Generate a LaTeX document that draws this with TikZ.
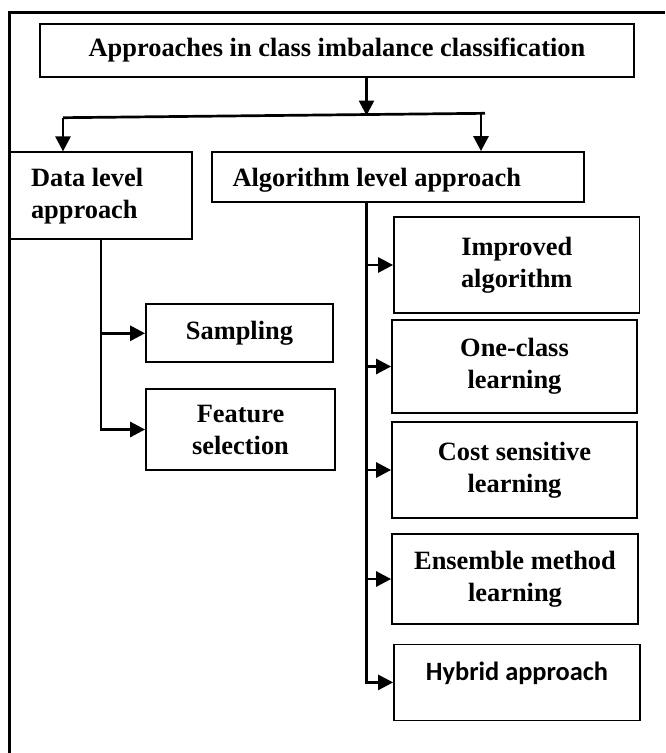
\documentclass[tikz,border=0pt]{standalone}
\usepackage{fontspec}
\setmainfont{Liberation Serif}
\newfontfamily\calibrifont{Carlito}
\usetikzlibrary{arrows.meta}

\begin{document}
\begin{tikzpicture}[x=1pt,y=-1pt,
  box/.style={draw, line width=1.8pt, inner sep=0pt, align=center,
    font={\fontsize{26.4}{32}\selectfont\bfseries}},
  leftbox/.style={box, align=flush left},
  link/.style={line width=2.7pt},
  arr/.style={link, -{Triangle[length=15pt,width=15pt]}},
  frameline/.style={line width=2.5pt}]

\useasboundingbox (0,0) rectangle (665,753);

% open frame: top and left edges
\draw[frameline] (665,12.3) -- (9.7,12.3) -- (9.7,753);

% boxes
\node[box, minimum width=594pt, minimum height=53pt] (title) at (337,50.2)
  {Approaches in class imbalance classification};
\node[leftbox, minimum width=181.7pt, minimum height=87pt, text width=139.7pt,
  inner xsep=21pt] (data) at (100.85,195.8) {Data level\\approach};
\node[leftbox, minimum width=372pt, minimum height=49.7pt, text width=331pt,
  inner xsep=20.5pt, text height=24pt, text depth=5.7pt] (algo) at (398,176.85)
  {Algorithm level approach};

\node[box, minimum width=187pt, minimum height=58pt] (sampling) at (239.5,333.3) {Sampling};
\node[box, minimum width=189pt, minimum height=81pt] (feature) at (240.5,429.5) {Feature\\selection};

\node[box, minimum width=245.5pt, minimum height=96pt] (improved) at (516.75,265) {Improved\\algorithm};
\node[box, minimum width=245pt, minimum height=93pt] (oneclass) at (514.5,366.5) {One-class\\learning};
\node[box, minimum width=245pt, minimum height=96pt] (cost) at (514.5,470) {Cost sensitive\\learning};
\node[box, minimum width=246pt, minimum height=90pt] (ensemble) at (515,579) {Ensemble method\\learning};
\node[box, minimum width=246pt, minimum height=76pt, text height=18pt, text depth=21pt,
  font={\fontsize{26.4}{32}\selectfont\calibrifont\bfseries}] (hybrid) at (517,682.4) {Hybrid approach};

% split below the title
\coordinate (split) at (366.5,115.5);
\coordinate (jl) at (63,117.7);
\coordinate (jr) at (485,113.3);
\coordinate (jalgo) at (481,113.5);

\draw[arr] (title.south -| split) -- (split);
\draw[link] (jl) -- (jr);
\draw[arr] (jl) -- (jl |- data.north);
\draw[arr] (jalgo) -- (jalgo |- algo.north);

% data level branches
\draw[arr] (data.south) |- (feature.west);
\draw[arr] (data.south |- sampling.west) -- (sampling.west);

% algorithm level branches
\draw[arr] (algo.south -| split) |- (hybrid.west);
\draw[arr] (improved.west -| split) -- (improved.west);
\draw[arr] (oneclass.west -| split) -- (oneclass.west);
\draw[arr] (cost.west -| split) -- (cost.west);
\draw[arr] (ensemble.west -| split) -- (ensemble.west);
\end{tikzpicture}
\end{document}
